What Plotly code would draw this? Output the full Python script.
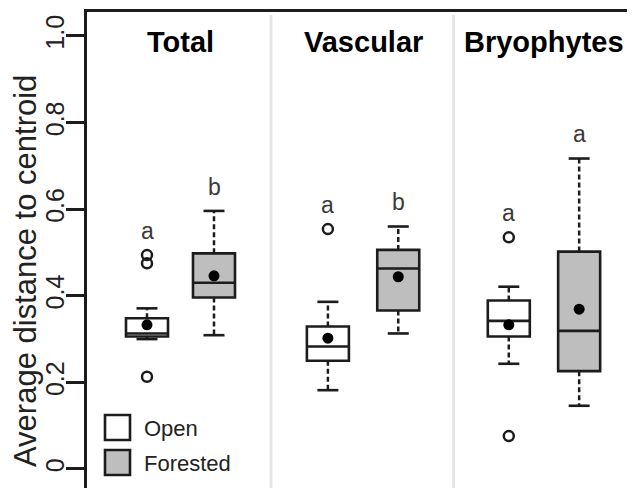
import plotly.graph_objects as go

# ---- data ----
groups = ["Total", "Vascular", "Bryophytes"]
habitats = ["Open", "Forested", "Open", "Forested", "Open", "Forested"]
positions = [1, 2, 3.7, 4.75, 6.4, 7.45]
lower_whisker = [0.300, 0.309, 0.182, 0.313, 0.243, 0.146]
q1 = [0.306, 0.396, 0.250, 0.366, 0.306, 0.226]
median = [0.313, 0.430, 0.283, 0.463, 0.342, 0.319]
q3 = [0.348, 0.498, 0.329, 0.506, 0.389, 0.502]
upper_whisker = [0.371, 0.596, 0.386, 0.560, 0.421, 0.717]
means = [0.333, 0.446, 0.302, 0.444, 0.333, 0.369]
outliers = [[0.494, 0.475, 0.213], [], [0.554], [], [0.535, 0.076], []]
letters = ["a", "b", "a", "b", "a", "a"]
ytick_vals = [0, 0.2, 0.4, 0.6, 0.8, 1.0]
ytick_text = ["0", "0.2", "0.4", "0.6", "0.8", "1.0"]

# ---- style ----
OFF = 8                      # default page body margin
W, H = 635 - OFF, 488 - OFF
L, T = 87 - OFF, 12 - OFF
PW, PH = W - L, H - T
FONT = "Liberation Sans, Arial, sans-serif"
LINE = "#1c1c1c"
FILL = {"Open": "#ffffff", "Forested": "#bebebe"}
BOXW = 0.627
YR = [-0.0439, 1.0554]
XR = [0.1045, 8.2836]

def px2paper_x(px):
    return (px - OFF - L) / PW

def px2paper_y(py):
    return 1 - (py - OFF - T) / PH

fig = go.Figure()

for i in range(len(positions)):
    p = positions[i]
    h = habitats[i]
    fig.add_trace(go.Box(
        x=[p], q1=[q1[i]], median=[median[i]], q3=[q3[i]],
        lowerfence=[q1[i]], upperfence=[q3[i]],
        width=BOXW, whiskerwidth=0, fillcolor=FILL[h],
        line=dict(color=LINE, width=2.6), boxpoints=False,
        showlegend=False, hoverinfo="skip"))
    # dashed whiskers
    fig.add_trace(go.Scatter(
        x=[p, p, None, p, p], y=[q3[i], upper_whisker[i], None, q1[i], lower_whisker[i]],
        mode="lines", line=dict(color=LINE, width=2.5, dash="5px,3px"),
        showlegend=False, hoverinfo="skip"))
    # caps
    cw = BOXW / 4
    fig.add_trace(go.Scatter(
        x=[p - cw, p + cw, None, p - cw, p + cw],
        y=[upper_whisker[i], upper_whisker[i], None, lower_whisker[i], lower_whisker[i]],
        mode="lines", line=dict(color=LINE, width=2.6),
        showlegend=False, hoverinfo="skip"))
    # outliers
    if outliers[i]:
        fig.add_trace(go.Scatter(
            x=[p] * len(outliers[i]), y=outliers[i], mode="markers",
            marker=dict(symbol="circle-open", size=10, color=LINE, line=dict(width=2.5)),
            showlegend=False, hoverinfo="skip"))
    # mean
    fig.add_trace(go.Scatter(
        x=[p], y=[means[i]], mode="markers",
        marker=dict(symbol="circle", size=11, color="#000000"),
        showlegend=False, hoverinfo="skip"))
    # significance letter
    top = max([upper_whisker[i]] + outliers[i])
    fig.add_annotation(x=p, y=top + 0.056, text=letters[i], showarrow=False,
                       font=dict(family=FONT, size=23, color="#3a3a3a"),
                       xanchor="center", yanchor="middle")

# panel titles and dividers
for g in range(len(groups)):
    a, b = positions[2 * g], positions[2 * g + 1]
    fig.add_annotation(x=(a + b) / 2, y=0.986, text="<b>" + groups[g] + "</b>",
                       showarrow=False, font=dict(family=FONT, size=29, color="#000000"),
                       xanchor="center", yanchor="middle")
    if g > 0:
        xd = (positions[2 * g - 1] + a) / 2
        fig.add_shape(type="line", xref="x", yref="paper", x0=xd, x1=xd,
                      y0=0, y1=px2paper_y(15), line=dict(color="#e6e6e6", width=3),
                      layer="below")

# legend (drawn as keys + text)
for k, (lab, y0) in enumerate([("Open", 415), ("Forested", 450)]):
    fig.add_shape(type="rect", xref="paper", yref="paper",
                  x0=px2paper_x(105), x1=px2paper_x(130),
                  y0=px2paper_y(y0 + 25), y1=px2paper_y(y0),
                  line=dict(color=LINE, width=2.6), fillcolor=FILL[lab])
    fig.add_annotation(xref="paper", yref="paper", x=px2paper_x(142), y=px2paper_y(y0 + 13),
                       text=lab, showarrow=False, xanchor="left", yanchor="middle",
                       font=dict(family=FONT, size=22, color="#222222"))

# y axis title
fig.add_annotation(xref="paper", yref="paper", x=px2paper_x(25), y=px2paper_y(271),
                   text="Average distance to centroid", textangle=-90, showarrow=False,
                   xanchor="center", yanchor="middle",
                   font=dict(family=FONT, size=31, color="#222222"))

fig.update_layout(
    width=W, height=H,
    margin=dict(l=L, r=0, t=T, b=0, autoexpand=False),
    paper_bgcolor="white", plot_bgcolor="white",
    showlegend=False,
    xaxis=dict(range=XR, showgrid=False, zeroline=False, showticklabels=False,
               ticks="", showline=True, side="top", linecolor=LINE, linewidth=3,
               automargin=False),
    yaxis=dict(range=YR, showgrid=False, zeroline=False, tickvals=ytick_vals,
               ticktext=ytick_text, ticks="outside", ticklen=18, tickwidth=3,
               tickcolor=LINE, showline=True, linecolor=LINE, linewidth=3,
               automargin=False, ticklabelstandoff=-8,
               tickangle=-90, tickfont=dict(family=FONT, size=25, color="#222222")),
)

fig.write_html("out.html")
